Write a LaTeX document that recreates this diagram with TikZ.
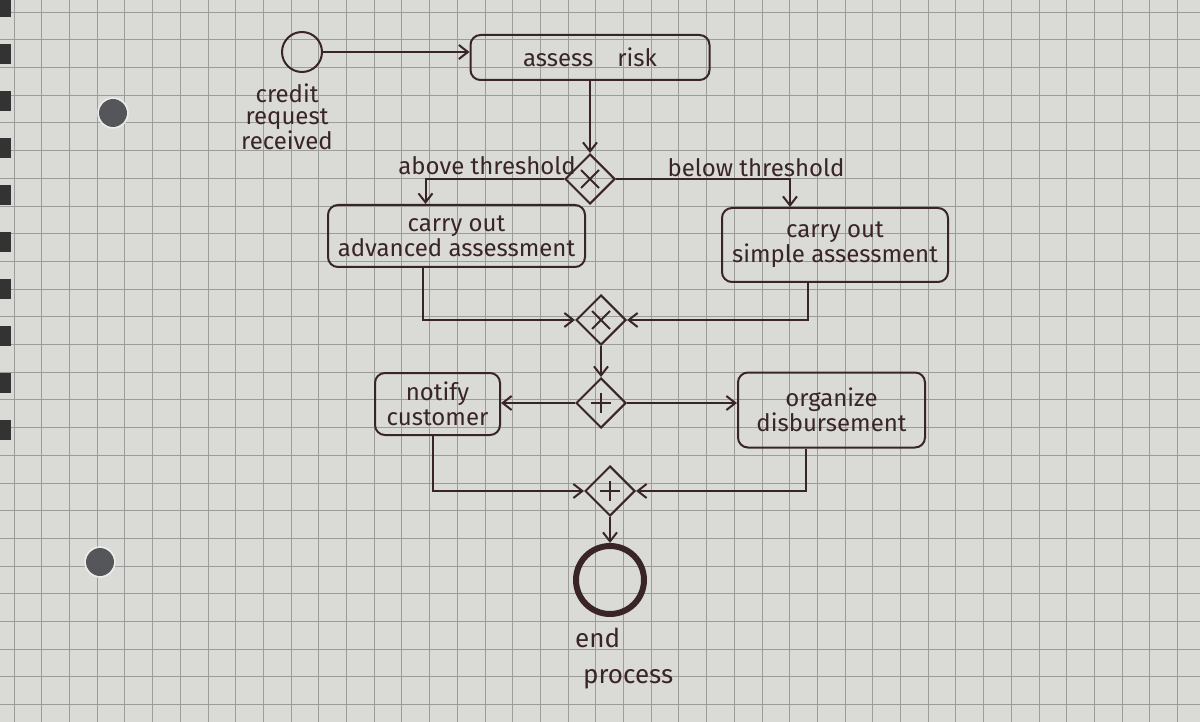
\documentclass[tikz,border=0pt]{standalone}
\usepackage{fontspec}
\setmainfont{Fira Sans}
\usetikzlibrary{arrows.meta,shapes.geometric,calc}
\definecolor{paper}{HTML}{DADAD6}
\definecolor{gridc}{HTML}{9C9C9A}
\definecolor{ink}{HTML}{3A2526}
\definecolor{hole}{HTML}{55565A}
\begin{document}
\begin{tikzpicture}[x=1pt,y=-1pt,
  inkline/.style={draw=ink,line width=2pt},
  task/.style={inkline,rounded corners=10pt,font=\fontsize{24}{25}\selectfont,text=ink,align=center,inner sep=0pt},
  gate/.style={inkline,diamond,minimum width=50pt,minimum height=50pt,inner sep=0pt},
  flow/.style={draw=ink,line width=2pt,-{Straight Barb[length=9pt,width=14pt]}},
  lbl/.style={text=ink,font=\fontsize{24}{22}\selectfont,align=center,inner sep=0pt}]
% paper
\fill[paper] (0,0) rectangle (1200,722);
\useasboundingbox (0,0) rectangle (1200,722);
\foreach \i in {0,...,43} \draw[gridc,line width=0.7pt] ({14+27.7*\i},0) -- ({14+27.7*\i},722);
\foreach \j in {0,...,26} \draw[gridc,line width=0.7pt] (0,{12+27.7*\j}) -- (1200,{12+27.7*\j});
% binding and holes
\foreach \k in {0,...,9} \fill[black!80] (0,{-3+47*\k}) rectangle (11,{17+47*\k});
\fill[hole] (113,113) circle (14);
\draw[white!85!gray,line width=1.5pt] (113,113) circle (15);
\fill[hole] (100,562) circle (14);
\draw[white!85!gray,line width=1.5pt] (100,562) circle (15);
% nodes
\node[inkline,circle,minimum size=40pt,inner sep=0pt] (start) at (302,52) {};
\node[lbl,anchor=north] (startl) at (287,84) {credit\\request\\received};
\node[task,minimum width=239pt,minimum height=45pt] (assess) at (590,57.5) {assess\quad risk};
\node[gate] (x1) at (590,179) {};
\node[lbl,anchor=south] (above) at (487,175) {above threshold};
\node[lbl,anchor=south] (below) at (756,177) {below threshold};
\node[task,minimum width=257pt,minimum height=62pt] (adv) at (456.5,236) {carry out\\advanced assessment};
\node[task,minimum width=226pt,minimum height=74pt] (simple) at (835,245) {carry out\\simple assessment};
\node[gate] (x2) at (601,320) {};
\node[gate] (a1) at (601,403) {};
\node[task,minimum width=125pt,minimum height=62pt] (notify) at (437.5,404) {notify\\customer};
\node[task,minimum width=187pt,minimum height=75pt] (org) at (831.5,410) {organize\\disbursement};
\node[gate] (a2) at (610,491) {};
\node[draw=ink,line width=6pt,circle,minimum size=68pt,inner sep=0pt] (end) at (610,580) {};
\node[text=ink,font=\fontsize{26}{36}\selectfont,align=left,inner sep=0pt,anchor=north west] (endl) at (575,628) {end\\\hspace*{8pt}process};
% gateway markers
\draw[inkline] ([shift={(-9,-9)}]x1.center) -- ([shift={(9,9)}]x1.center) ([shift={(-9,9)}]x1.center) -- ([shift={(9,-9)}]x1.center);
\draw[inkline] ([shift={(-9,-9)}]x2.center) -- ([shift={(9,9)}]x2.center) ([shift={(-9,9)}]x2.center) -- ([shift={(9,-9)}]x2.center);
\draw[inkline] ([shift={(-10,0)}]a1.center) -- ([shift={(10,0)}]a1.center) ([shift={(0,-10)}]a1.center) -- ([shift={(0,10)}]a1.center);
\draw[inkline] ([shift={(-10,0)}]a2.center) -- ([shift={(10,0)}]a2.center) ([shift={(0,-10)}]a2.center) -- ([shift={(0,10)}]a2.center);
% flows
\draw[flow] (start.east) -- (start.east -| assess.west);
\draw[flow] (assess.south) -- (x1.north);
\draw[flow] (x1.west) -| ([xshift=-31pt]adv.north);
\draw[flow] (x1.east) -| ([xshift=-45pt]simple.north);
\draw[flow] ([xshift=-34pt]adv.south) |- (x2.west);
\draw[flow] ([xshift=-27pt]simple.south) |- (x2.east);
\draw[flow] (x2.south) -- (a1.north);
\draw[flow] (a1.west) -- (a1.west -| notify.east);
\draw[flow] (a1.east) -- (a1.east -| org.west);
\draw[flow] ([xshift=-5pt]notify.south) |- (a2.west);
\draw[flow] ([xshift=-26pt]org.south) |- (a2.east);
\draw[flow] (a2.south) -- (end.north);
\end{tikzpicture}
\end{document}
